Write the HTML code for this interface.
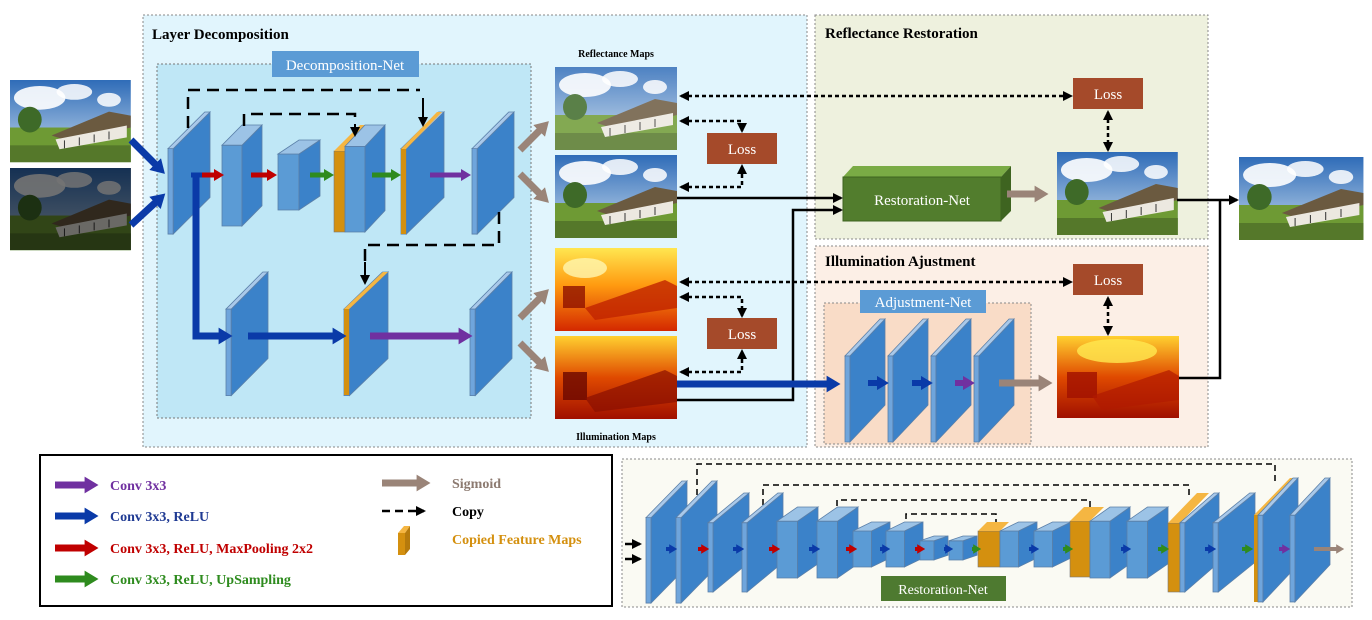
<!DOCTYPE html>
<html><head><meta charset="utf-8"><style>
html,body{margin:0;padding:0;background:#fff;}
svg{display:block;}
text{font-family:"Liberation Serif",serif;}
</style></head><body>
<svg width="1372" height="620" viewBox="0 0 1372 620" xmlns="http://www.w3.org/2000/svg">
<defs>
<linearGradient id="sky" x1="0" y1="0" x2="0" y2="1"><stop offset="0" stop-color="#2f6cb8"/><stop offset="1" stop-color="#c9dcee"/></linearGradient>
<linearGradient id="heat" x1="0" y1="0" x2="0" y2="1"><stop offset="0" stop-color="#ffe650"/><stop offset="0.45" stop-color="#ff9a10"/><stop offset="1" stop-color="#d42800"/></linearGradient>
<linearGradient id="heat2" x1="0" y1="0" x2="0" y2="1"><stop offset="0" stop-color="#ffd030"/><stop offset="0.5" stop-color="#e04a00"/><stop offset="1" stop-color="#a01000"/></linearGradient>
<g id="scene">
<rect width="122" height="83" fill="url(#sky)"/>
<ellipse cx="30" cy="18" rx="26" ry="12" fill="#fff" opacity=".9"/>
<ellipse cx="65" cy="12" rx="18" ry="8" fill="#fff" opacity=".85"/>
<ellipse cx="100" cy="20" rx="12" ry="7" fill="#fff" opacity=".85"/>
<rect y="48" width="122" height="35" fill="#6e9a34"/>
<rect y="66" width="122" height="17" fill="#55782a"/>
<ellipse cx="20" cy="40" rx="12" ry="13" fill="#3e6a28"/>
<polygon points="42,56 100,32 122,36 122,48 60,62" fill="#6b5a40"/>
<polygon points="46,60 118,46 118,58 50,70" fill="#ece8e0"/>
<line x1="55" y1="61" x2="55" y2="69" stroke="#333"/><line x1="70" y1="58" x2="70" y2="66" stroke="#333"/><line x1="85" y1="55" x2="85" y2="63" stroke="#333"/><line x1="100" y1="52" x2="100" y2="60" stroke="#333"/>
</g>
<g id="hmap">
<rect width="122" height="83" fill="url(#heat)"/>
<ellipse cx="30" cy="20" rx="22" ry="10" fill="#fff6b0" opacity=".8"/>
<rect x="8" y="38" width="22" height="22" fill="#8e1200" opacity=".8"/>
<polygon points="30,60 110,32 122,38 122,60 40,72" fill="#c02400" opacity=".8"/>
</g>
<g id="pn">
<rect x="0" y="36" width="5" height="84" fill="#6fa5dc" stroke="#5a7fa8" stroke-width=".8" vector-effect="non-scaling-stroke"/>
<polygon points="5,36 40,0 40,84 5,120" fill="#3b82c9" stroke="#5a7fa8" stroke-width=".8" vector-effect="non-scaling-stroke"/>
<polygon points="0,36 35,0 40,0 5,36" fill="#a9c9ea" stroke="#5a7fa8" stroke-width=".8" vector-effect="non-scaling-stroke"/>
</g>
<g id="bx">
<rect x="0" y="20" width="20" height="80" fill="#5b9bd5" stroke="#5a7fa8" stroke-width=".8" vector-effect="non-scaling-stroke"/>
<polygon points="20,20 40,0 40,80 20,100" fill="#3b82c9" stroke="#5a7fa8" stroke-width=".8" vector-effect="non-scaling-stroke"/>
<polygon points="0,20 20,0 40,0 20,20" fill="#9cc3e6" stroke="#5a7fa8" stroke-width=".8" vector-effect="non-scaling-stroke"/>
</g>
<marker id="mbk" markerUnits="userSpaceOnUse" markerWidth="10" markerHeight="10" refX="8" refY="5" orient="auto"><path d="M0,0 L10,5 L0,10 z" fill="#000"/></marker>
<marker id="mbks" markerUnits="userSpaceOnUse" markerWidth="10" markerHeight="10" refX="8" refY="5" orient="auto-start-reverse"><path d="M0,0 L10,5 L0,10 z" fill="#000"/></marker>
<marker id="mbr" markerWidth="2" markerHeight="2.4" refX="0.2" refY="1.2" orient="auto"><path d="M0,0 L2,1.2 L0,2.4 z" fill="#9a8478"/></marker>
<marker id="mbl" markerWidth="2" markerHeight="2.4" refX="0.2" refY="1.2" orient="auto"><path d="M0,0 L2,1.2 L0,2.4 z" fill="#0a3aa8"/></marker>
<marker id="mrd" markerWidth="2" markerHeight="2.4" refX="0.2" refY="1.2" orient="auto"><path d="M0,0 L2,1.2 L0,2.4 z" fill="#c00000"/></marker>
<marker id="mgr" markerWidth="2" markerHeight="2.4" refX="0.2" refY="1.2" orient="auto"><path d="M0,0 L2,1.2 L0,2.4 z" fill="#2e8b1e"/></marker>
<marker id="mpu" markerWidth="2" markerHeight="2.4" refX="0.2" refY="1.2" orient="auto"><path d="M0,0 L2,1.2 L0,2.4 z" fill="#7030a0"/></marker>
</defs>

<!-- panels -->
<rect x="143" y="15" width="664" height="432" fill="#e1f5fd" stroke="#888" stroke-dasharray="2,2"/>
<rect x="157" y="64" width="374" height="354" fill="#bfe7f6" stroke="#777" stroke-dasharray="2,2"/>
<rect x="272" y="51" width="147" height="26" fill="#5b9bd5"/>
<text x="345" y="70" font-size="15" fill="#fff" text-anchor="middle">Decomposition-Net</text>
<text x="152" y="39" font-size="15" font-weight="bold">Layer Decomposition</text>
<rect x="815" y="15" width="393" height="224" fill="#eef1de" stroke="#888" stroke-dasharray="2,2"/>
<text x="825" y="38" font-size="15" font-weight="bold">Reflectance Restoration</text>
<rect x="815" y="246" width="393" height="201" fill="#fcefe6" stroke="#888" stroke-dasharray="2,2"/>
<text x="825" y="266" font-size="15" font-weight="bold">Illumination Ajustment</text>
<rect x="824" y="303" width="207" height="141" fill="#f9dcc7" stroke="#888" stroke-dasharray="2,2"/>
<rect x="860" y="290" width="126" height="23" fill="#5b9bd5"/>
<text x="923" y="307" font-size="15" fill="#fff" text-anchor="middle">Adjustment-Net</text>

<!-- input images -->
<use href="#scene" transform="translate(10,80) scale(0.99,0.99)"/>
<use href="#scene" transform="translate(10,168) scale(0.99,0.99)"/>
<rect x="10" y="168" width="121" height="82" fill="#000" opacity=".55"/>
<line x1="131" y1="140" x2="156" y2="165" stroke="#0a3aa8" stroke-width="7" marker-end="url(#mbl)"/>
<line x1="131" y1="225" x2="156" y2="202" stroke="#0a3aa8" stroke-width="7" marker-end="url(#mbl)"/>

<!-- decomposition net -->
<use href="#pn" transform="translate(168,112) scale(1.05,1.017)"/>
<use href="#bx" transform="translate(222,125) scale(1.0,1.01)"/>
<use href="#bx" transform="translate(278,140) scale(1.05,0.7)"/>
<g>
<rect x="334" y="151" width="11" height="81" fill="#d4900f" stroke="#777" stroke-width=".6"/>
<polygon points="334,151 360,125 371,125 345,151" fill="#f5b642"/>
<use href="#bx" transform="translate(345,125) scale(1.0,1.07)"/>
</g>
<use href="#pn" transform="translate(401,112) scale(1.075,1.017)"/>
<rect x="401" y="149" width="5" height="85" fill="#d4900f"/>
<polygon points="401,149 437,112 442,112 406,149" fill="#f5b642"/>
<use href="#pn" transform="translate(472,112) scale(1.05,1.017)"/>
<use href="#pn" transform="translate(226,272) scale(1.05,1.03)"/>
<use href="#pn" transform="translate(344,272) scale(1.1,1.03)"/>
<rect x="344" y="309" width="5" height="86" fill="#d4900f"/>
<polygon points="344,309 383,272 388,272 349,309" fill="#f5b642"/>
<use href="#pn" transform="translate(470,272) scale(1.05,1.03)"/>

<!-- decomposition arrows -->
<path d="M196,175 L196,336 L220,336" fill="none" stroke="#0a3aa8" stroke-width="7" marker-end="url(#mbl)"/>
<line x1="191" y1="175" x2="210" y2="175" stroke="#0a3aa8" stroke-width="5"/>
<line x1="202" y1="175" x2="215" y2="175" stroke="#c00000" stroke-width="5" marker-end="url(#mrd)"/>
<line x1="251" y1="175" x2="268" y2="175" stroke="#c00000" stroke-width="5" marker-end="url(#mrd)"/>
<line x1="310" y1="175" x2="325" y2="175" stroke="#2e8b1e" stroke-width="5" marker-end="url(#mgr)"/>
<line x1="372" y1="175" x2="392" y2="175" stroke="#2e8b1e" stroke-width="5" marker-end="url(#mgr)"/>
<line x1="430" y1="175" x2="462" y2="175" stroke="#7030a0" stroke-width="5" marker-end="url(#mpu)"/>
<line x1="248" y1="336" x2="334" y2="336" stroke="#0a3aa8" stroke-width="7" marker-end="url(#mbl)"/>
<line x1="370" y1="336" x2="460" y2="336" stroke="#7030a0" stroke-width="7" marker-end="url(#mpu)"/>
<!-- copy dashes -->
<g fill="none" stroke="#000" stroke-width="2.5" stroke-dasharray="12,7">
<path d="M188,128 L188,90 L420,90"/>
<path d="M244,126 L244,114 L355,114 L355,124"/>
<path d="M499,212 L499,245 L365,245 L365,262"/>
</g>
<line x1="423" y1="98" x2="423" y2="125" stroke="#000" stroke-width="2" marker-end="url(#mbk)"/>
<line x1="355" y1="124" x2="355" y2="135" stroke="#000" stroke-width="2" marker-end="url(#mbk)"/>
<line x1="365" y1="262" x2="365" y2="283" stroke="#000" stroke-width="2" marker-end="url(#mbk)"/>

<!-- sigmoid arrows -->
<line x1="520" y1="150" x2="540" y2="130" stroke="#9a8478" stroke-width="7" marker-end="url(#mbr)"/>
<line x1="520" y1="174" x2="540" y2="194" stroke="#9a8478" stroke-width="7" marker-end="url(#mbr)"/>
<line x1="520" y1="318" x2="540" y2="298" stroke="#9a8478" stroke-width="7" marker-end="url(#mbr)"/>
<line x1="520" y1="343" x2="540" y2="363" stroke="#9a8478" stroke-width="7" marker-end="url(#mbr)"/>

<!-- maps -->
<text x="616" y="57" font-size="10" font-weight="bold" text-anchor="middle">Reflectance Maps</text>
<use href="#scene" transform="translate(555,67)"/>
<rect x="555" y="67" width="122" height="83" fill="#fff" opacity=".15"/>
<use href="#scene" transform="translate(555,155)"/>
<use href="#hmap" transform="translate(555,248)"/>
<g transform="translate(555,336)"><rect width="122" height="83" fill="url(#heat2)"/><rect x="8" y="36" width="24" height="28" fill="#6a0800" opacity=".8"/><polygon points="30,62 110,34 122,40 122,66 40,76" fill="#8a1000" opacity=".7"/></g>
<text x="616" y="440" font-size="10" font-weight="bold" text-anchor="middle">Illumination Maps</text>

<!-- loss boxes -->
<g font-size="15" fill="#fff" text-anchor="middle">
<rect x="707" y="133" width="70" height="31" fill="#a54a2a"/><text x="742" y="154">Loss</text>
<rect x="707" y="318" width="70" height="31" fill="#a54a2a"/><text x="742" y="339">Loss</text>
<rect x="1073" y="78" width="70" height="31" fill="#a54a2a"/><text x="1108" y="99">Loss</text>
<rect x="1073" y="264" width="70" height="31" fill="#a54a2a"/><text x="1108" y="285">Loss</text>
</g>
<g fill="none" stroke="#000" stroke-width="2.5" stroke-dasharray="4,3">
<path d="M681,96 L1071,96" marker-start="url(#mbks)" marker-end="url(#mbk)"/>
<path d="M681,121 L742,121 L742,131" marker-start="url(#mbks)" marker-end="url(#mbk)"/>
<path d="M681,187 L742,187 L742,166" marker-start="url(#mbks)" marker-end="url(#mbk)"/>
<path d="M681,282 L1071,282" marker-start="url(#mbks)" marker-end="url(#mbk)"/>
<path d="M681,297 L742,297 L742,316" marker-start="url(#mbks)" marker-end="url(#mbk)"/>
<path d="M681,372 L742,372 L742,351" marker-start="url(#mbks)" marker-end="url(#mbk)"/>
<path d="M1108,112 L1108,150" marker-start="url(#mbks)" marker-end="url(#mbk)"/>
<path d="M1108,298 L1108,334" marker-start="url(#mbks)" marker-end="url(#mbk)"/>
</g>

<!-- restoration net block -->
<polygon points="843,177 853,166 1011,166 1001,177" fill="#7aab45"/>
<polygon points="1001,177 1011,166 1011,211 1001,221" fill="#3e6420"/>
<rect x="843" y="177" width="158" height="44" fill="#527d2d" stroke="#3e6420"/>
<text x="922" y="205" font-size="15" fill="#fff" text-anchor="middle">Restoration-Net</text>
<line x1="1007" y1="194" x2="1036" y2="194" stroke="#9a8478" stroke-width="7" marker-end="url(#mbr)"/>
<use href="#scene" transform="translate(1057,152) scale(0.99,1.0)"/>
<use href="#scene" transform="translate(1239,157) scale(1.02,1.0)"/>

<path d="M677,198 L841,198" stroke="#000" stroke-width="2.5" marker-end="url(#mbk)"/>
<path d="M677,400 L793,400 L793,210 L841,210" fill="none" stroke="#000" stroke-width="2.5" marker-end="url(#mbk)"/>
<line x1="677" y1="384" x2="828" y2="384" stroke="#0a3aa8" stroke-width="7" marker-end="url(#mbl)"/>
<path d="M1177,200 L1237,200" stroke="#000" stroke-width="2.5" marker-end="url(#mbk)"/>
<path d="M1179,378 L1220,378 L1220,200" fill="none" stroke="#000" stroke-width="2.5"/>

<!-- adjustment net -->
<use href="#pn" transform="translate(845,319) scale(1.0,1.025)"/>
<use href="#pn" transform="translate(888,319) scale(1.0,1.025)"/>
<use href="#pn" transform="translate(931,319) scale(1.0,1.025)"/>
<use href="#pn" transform="translate(974,319) scale(1.0,1.025)"/>
<line x1="868" y1="383" x2="878" y2="383" stroke="#0a3aa8" stroke-width="6" marker-end="url(#mbl)"/>
<line x1="912" y1="383" x2="922" y2="383" stroke="#0a3aa8" stroke-width="6" marker-end="url(#mbl)"/>
<line x1="955" y1="383" x2="964" y2="383" stroke="#7030a0" stroke-width="6" marker-end="url(#mpu)"/>
<line x1="999" y1="383" x2="1040" y2="383" stroke="#9a8478" stroke-width="7" marker-end="url(#mbr)"/>
<g transform="translate(1057,336)"><rect width="122" height="82" fill="url(#heat2)"/><ellipse cx="60" cy="15" rx="40" ry="12" fill="#ffe850" opacity=".8"/><rect x="10" y="36" width="30" height="26" fill="#a01000" opacity=".8"/><polygon points="35,60 112,34 122,40 122,64 45,74" fill="#b01a00" opacity=".7"/></g>

<!-- legend -->
<rect x="40" y="455" width="572" height="151" fill="#fff" stroke="#000" stroke-width="2"/>
<g font-size="14" font-weight="bold">
<line x1="55" y1="485" x2="86" y2="485" stroke="#7030a0" stroke-width="7" marker-end="url(#mpu)"/><text x="110" y="490" fill="#7030a0">Conv 3x3</text>
<line x1="55" y1="516" x2="86" y2="516" stroke="#0a3aa8" stroke-width="7" marker-end="url(#mbl)"/><text x="110" y="521" fill="#1f3a93">Conv 3x3, ReLU</text>
<line x1="55" y1="548" x2="86" y2="548" stroke="#c00000" stroke-width="7" marker-end="url(#mrd)"/><text x="110" y="553" fill="#c00000">Conv 3x3, ReLU, MaxPooling 2x2</text>
<line x1="55" y1="579" x2="86" y2="579" stroke="#2e8b1e" stroke-width="7" marker-end="url(#mgr)"/><text x="110" y="584" fill="#2e8b1e">Conv 3x3, ReLU, UpSampling</text>
<line x1="382" y1="483" x2="418" y2="483" stroke="#9a8478" stroke-width="7" marker-end="url(#mbr)"/><text x="452" y="488" fill="#8c7a70">Sigmoid</text>
<line x1="382" y1="511" x2="424" y2="511" stroke="#000" stroke-width="2.5" stroke-dasharray="8,5" marker-end="url(#mbk)"/><text x="452" y="516" fill="#000">Copy</text>
<rect x="398" y="533" width="7" height="22" fill="#d4900f"/><polygon points="398,533 404,526 410,526 405,533" fill="#f5b642"/><polygon points="405,533 410,526 410,549 405,555" fill="#b57a0c"/>
<text x="452" y="544" fill="#d4900f">Copied Feature Maps</text>
</g>

<!-- restoration net detail -->
<rect x="622" y="459" width="730" height="148" fill="#fafaf3" stroke="#888" stroke-dasharray="2,2"/>
<g fill="none" stroke="#000" stroke-width="1.5" stroke-dasharray="6,4">
<path d="M697,495 L697,464 L1275,464 L1275,482"/>
<path d="M763,505 L763,485 L1189,485 L1189,496"/>
<path d="M837,516 L837,500 L1090,500 L1090,510"/>
<path d="M906,529 L906,514 L996,514 L996,522"/>
</g>
<use href="#pn" transform="translate(646,481) scale(1.025,1.017)"/>
<use href="#pn" transform="translate(676,481) scale(1.025,1.017)"/>
<use href="#pn" transform="translate(708,493) scale(1.025,0.825)"/>
<use href="#pn" transform="translate(742,493) scale(1.025,0.825)"/>
<use href="#bx" transform="translate(777,507) scale(1.025,0.71)"/>
<use href="#bx" transform="translate(817,507) scale(1.025,0.71)"/>
<use href="#bx" transform="translate(853,522) scale(0.925,0.45)"/>
<use href="#bx" transform="translate(886,522) scale(0.925,0.45)"/>
<use href="#bx" transform="translate(920,536) scale(0.7,0.24)"/>
<use href="#bx" transform="translate(949,536) scale(0.7,0.24)"/>
<rect x="978" y="531" width="22" height="36" fill="#d4900f" stroke="#777" stroke-width=".6"/>
<polygon points="978,531 987,522 1009,522 1000,531" fill="#f5b642"/>
<use href="#bx" transform="translate(1000,522) scale(0.925,0.45)"/>
<use href="#bx" transform="translate(1034,522) scale(0.925,0.45)"/>
<rect x="1070" y="521" width="20" height="56" fill="#d4900f" stroke="#777" stroke-width=".6"/>
<polygon points="1070,521 1084,507 1104,507 1090,521" fill="#f5b642"/>
<use href="#bx" transform="translate(1090,507) scale(1.0,0.71)"/>
<use href="#bx" transform="translate(1127,507) scale(1.025,0.71)"/>
<rect x="1168" y="523" width="12" height="69" fill="#d4900f" stroke="#777" stroke-width=".6"/>
<polygon points="1168,523 1197,493 1209,493 1180,523" fill="#f5b642"/>
<use href="#pn" transform="translate(1180,493) scale(0.975,0.825)"/>
<use href="#pn" transform="translate(1213,493) scale(1.05,0.825)"/>
<rect x="1254" y="515" width="5" height="87" fill="#d4900f"/>
<polygon points="1254,515 1290,478 1295,478 1259,515" fill="#f5b642"/>
<use href="#pn" transform="translate(1258,478) scale(1.0,1.033)"/>
<use href="#pn" transform="translate(1290,478) scale(1.0,1.033)"/>
<g stroke-width="4">
<line x1="666" y1="549" x2="670" y2="549" stroke="#0a3aa8" marker-end="url(#mbl)"/>
<line x1="698" y1="549" x2="702" y2="549" stroke="#c00000" marker-end="url(#mrd)"/>
<line x1="733" y1="549" x2="737" y2="549" stroke="#0a3aa8" marker-end="url(#mbl)"/>
<line x1="769" y1="549" x2="773" y2="549" stroke="#c00000" marker-end="url(#mrd)"/>
<line x1="809" y1="549" x2="813" y2="549" stroke="#0a3aa8" marker-end="url(#mbl)"/>
<line x1="846" y1="549" x2="850" y2="549" stroke="#c00000" marker-end="url(#mrd)"/>
<line x1="880" y1="549" x2="883" y2="549" stroke="#0a3aa8" marker-end="url(#mbl)"/>
<line x1="915" y1="549" x2="918" y2="549" stroke="#c00000" marker-end="url(#mrd)"/>
<line x1="944" y1="549" x2="946" y2="549" stroke="#0a3aa8" marker-end="url(#mbl)"/>
<line x1="972" y1="549" x2="974" y2="549" stroke="#2e8b1e" marker-end="url(#mgr)"/>
<line x1="1029" y1="549" x2="1032" y2="549" stroke="#0a3aa8" marker-end="url(#mbl)"/>
<line x1="1063" y1="549" x2="1066" y2="549" stroke="#2e8b1e" marker-end="url(#mgr)"/>
<line x1="1121" y1="549" x2="1124" y2="549" stroke="#0a3aa8" marker-end="url(#mbl)"/>
<line x1="1158" y1="549" x2="1162" y2="549" stroke="#2e8b1e" marker-end="url(#mgr)"/>
<line x1="1205" y1="549" x2="1209" y2="549" stroke="#0a3aa8" marker-end="url(#mbl)"/>
<line x1="1242" y1="549" x2="1246" y2="549" stroke="#2e8b1e" marker-end="url(#mgr)"/>
<line x1="1279" y1="549" x2="1283" y2="549" stroke="#7030a0" marker-end="url(#mpu)"/>
<line x1="1314" y1="549" x2="1337" y2="549" stroke="#9a8478" marker-end="url(#mbr)"/>
</g>
<line x1="625" y1="544" x2="640" y2="544" stroke="#000" stroke-width="2.5" marker-end="url(#mbk)"/>
<line x1="625" y1="559" x2="640" y2="559" stroke="#000" stroke-width="2.5" marker-end="url(#mbk)"/>
<rect x="881" y="576" width="125" height="25" fill="#4e7a30"/>
<text x="943" y="594" font-size="14" fill="#fff" text-anchor="middle">Restoration-Net</text>
</svg>
</body></html>
